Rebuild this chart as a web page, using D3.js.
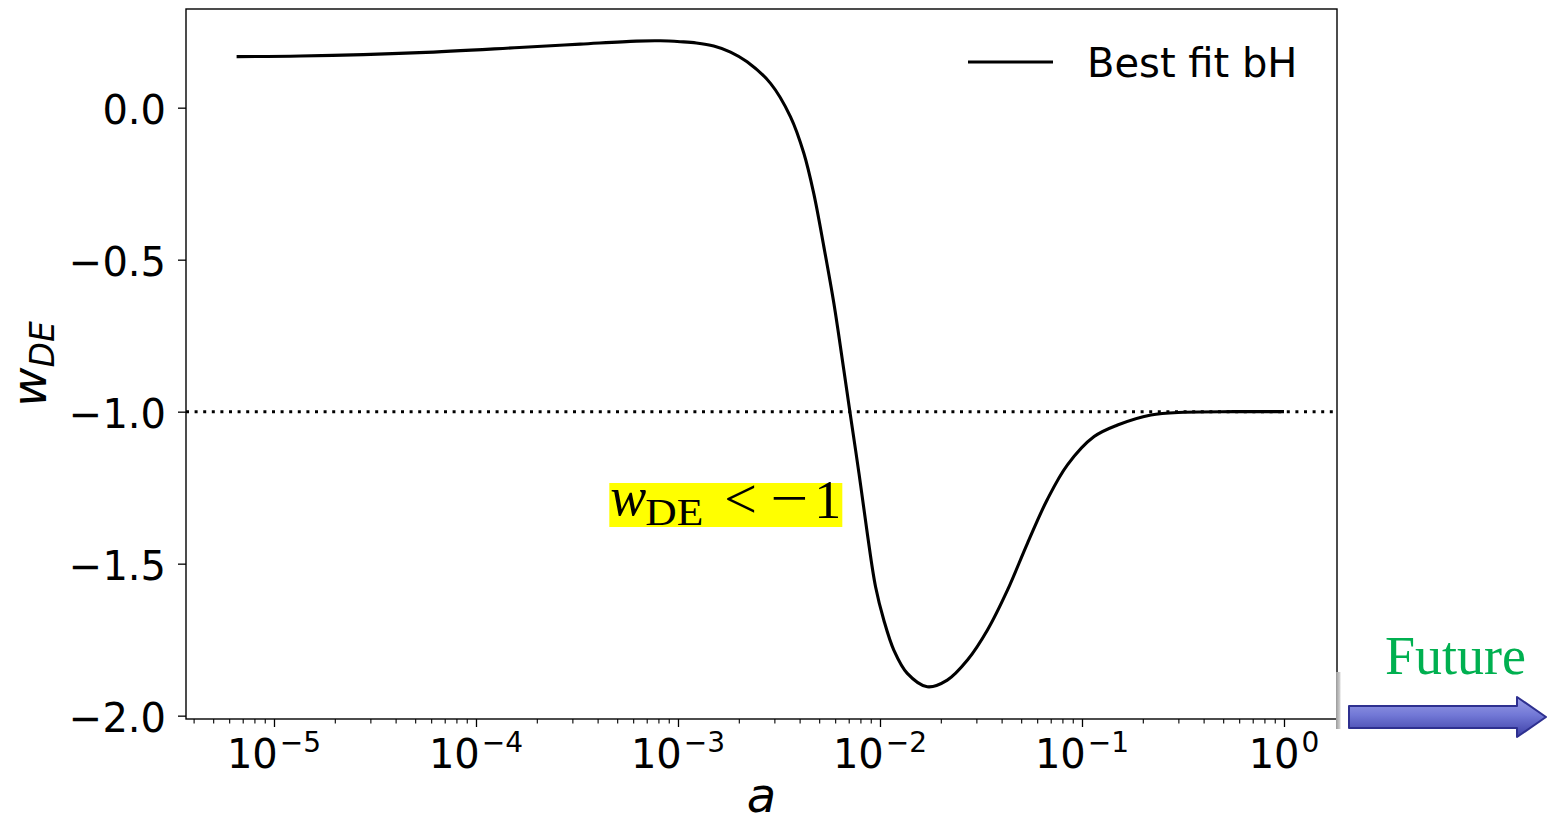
<!DOCTYPE html>
<html>
<head>
<meta charset="utf-8">
<script src="https://cdn.jsdelivr.net/npm/d3@7"></script>
<style>
  html, body { margin: 0; padding: 0; background: #ffffff; }
  svg { display: block; }
</style>
</head>
<body>
<svg id="chart" width="1548" height="825"></svg>
<script>
// ---- data ----
const aValues = [6.53e-6, 1.35e-5, 5.24e-5, 1.64e-4, 3.28e-4, 6.22e-4, 8.18e-4, 1.028e-3,
  1.233e-3, 1.503e-3, 1.82e-3, 2.198e-3, 2.871e-3, 3.606e-3, 4.198e-3, 4.699e-3, 5.272e-3, 5.916e-3,
  6.622e-3, 7.096e-3, 7.870e-3, 8.650e-3, 9.506e-3, 1.045e-2, 1.172e-2, 1.365e-2,
  1.714e-2, 2.153e-2, 2.710e-2, 3.404e-2, 4.276e-2, 5.370e-2, 6.745e-2, 8.472e-2,
  0.1148, 0.1500, 0.2193, 0.3206, 0.5675, 1.0];
const wValues = [0.168, 0.170, 0.181, 0.198, 0.209, 0.219, 0.220, 0.217,
  0.213, 0.203, 0.183, 0.151, 0.080, -0.030, -0.150, -0.282, -0.457, -0.645,
  -0.863, -1.000, -1.203, -1.400, -1.576, -1.686, -1.785, -1.861,
  -1.905, -1.883, -1.817, -1.718, -1.587, -1.433, -1.288, -1.175,
  -1.082, -1.044, -1.011, -1.002, -1.000, -1.000];
const xTickExponents = [-5, -4, -3, -2, -1, 0];
const yTickValues = [0.0, -0.5, -1.0, -1.5, -2.0];
const yTickLabels = ["0.0", "\u22120.5", "\u22121.0", "\u22121.5", "\u22122.0"];
const referenceW = -1.0;
const seriesLabel = "Best fit bH";
const xLabel = "a";
const futureLabel = "Future";

// ---- layout ----
const svg = d3.select("#chart");
const plot = { left: 186, right: 1337, top: 9, bottom: 719 };
const x = d3.scaleLog()
  .domain([Math.pow(10, -5.4356), Math.pow(10, 0.2624)])
  .range([plot.left, plot.right]);
const y = d3.scaleLinear()
  .domain([-2.011, 0.3246])
  .range([plot.bottom, plot.top]);

const sans = "'DejaVu Sans', sans-serif";
const serif = "'Liberation Serif', 'Times New Roman', serif";

// reference line w = -1
svg.append("line")
  .attr("x1", plot.left).attr("x2", plot.right)
  .attr("y1", y(referenceW)).attr("y2", y(referenceW))
  .attr("stroke", "#000").attr("stroke-width", 3)
  .attr("stroke-dasharray", "3,5.6");

// curve
const pts = aValues.map((a, i) => [a, wValues[i]]);
svg.append("path")
  .datum(pts)
  .attr("fill", "none")
  .attr("stroke", "#000")
  .attr("stroke-width", 3.1)
  .attr("stroke-linejoin", "round")
  .attr("d", d3.line().x(d => x(d[0])).y(d => y(d[1])).curve(d3.curveCatmullRom.alpha(0.5)));

// x axis major ticks
const xMajor = xTickExponents.map(e => Math.pow(10, e));
const xAxisG = svg.append("g")
  .attr("transform", `translate(0,${plot.bottom})`)
  .call(d3.axisBottom(x).tickValues(xMajor).tickSize(8).tickSizeOuter(0).tickFormat(""));
xAxisG.select(".domain").remove();
xAxisG.selectAll(".tick line").attr("stroke", "#000").attr("stroke-width", 1.3);

// minor ticks
const xMinor = [];
for (let e = -6; e <= 0; e++) for (let k = 2; k <= 9; k++) {
  const v = k * Math.pow(10, e);
  if (v >= x.domain()[0] && v <= x.domain()[1]) xMinor.push(v);
}
const xMinorG = svg.append("g")
  .attr("transform", `translate(0,${plot.bottom})`)
  .call(d3.axisBottom(x).tickValues(xMinor).tickSize(4.5).tickSizeOuter(0).tickFormat(""));
xMinorG.select(".domain").remove();
xMinorG.selectAll(".tick line").attr("stroke", "#000").attr("stroke-width", 1.1);

// x tick labels 10^e
xTickExponents.forEach(e => {
  const t = svg.append("text")
    .attr("x", x(Math.pow(10, e))).attr("y", 768)
    .attr("text-anchor", "middle")
    .attr("font-family", sans).attr("font-size", 40).attr("fill", "#000");
  t.append("tspan").text("10");
  t.append("tspan").attr("font-size", 28).attr("dy", -16).attr("dx", 2)
    .text(e < 0 ? "\u2212" + Math.abs(e) : String(e));
});

// y axis
const yAxisG = svg.append("g")
  .attr("transform", `translate(${plot.left},0)`)
  .call(d3.axisLeft(y).tickValues(yTickValues).tickSize(8).tickSizeOuter(0).tickFormat(""));
yAxisG.select(".domain").remove();
yAxisG.selectAll(".tick line").attr("stroke", "#000").attr("stroke-width", 1.3);
yTickValues.forEach((v, i) => {
  svg.append("text")
    .attr("x", 166).attr("y", y(v) + 16)
    .attr("text-anchor", "end")
    .attr("font-family", sans).attr("font-size", 40).attr("fill", "#000")
    .text(yTickLabels[i]);
});

// frame
svg.append("rect")
  .attr("x", plot.left).attr("y", plot.top)
  .attr("width", plot.right - plot.left).attr("height", plot.bottom - plot.top)
  .attr("fill", "none").attr("stroke", "#000").attr("stroke-width", 1.4);

// axis labels
const yl = svg.append("text")
  .attr("transform", `translate(46,${(plot.top + plot.bottom) / 2}) rotate(-90)`)
  .attr("text-anchor", "middle")
  .attr("font-family", sans).attr("font-style", "italic").attr("font-size", 48).attr("fill", "#000");
yl.append("tspan").text("w");
yl.append("tspan").attr("font-size", 33).attr("dy", 8).text("DE");

svg.append("text")
  .attr("x", (plot.left + plot.right) / 2).attr("y", 812)
  .attr("text-anchor", "middle")
  .attr("font-family", sans).attr("font-style", "italic").attr("font-size", 48).attr("fill", "#000")
  .text(xLabel);

// legend
svg.append("line")
  .attr("x1", 968).attr("x2", 1053).attr("y1", 62).attr("y2", 62)
  .attr("stroke", "#000").attr("stroke-width", 3);
svg.append("text")
  .attr("x", 1087).attr("y", 77)
  .attr("font-family", sans).attr("font-size", 40).attr("fill", "#000")
  .text(seriesLabel);

// annotation w_DE < -1 (yellow highlight)
const annA = Math.pow(10, -3.34), annW = -1.307;
const ax0 = x(annA), ay0 = y(annW);
svg.append("rect")
  .attr("x", ax0).attr("y", ay0 - 22).attr("width", 233).attr("height", 44)
  .attr("fill", "#ffff00");
svg.append("text")
  .attr("x", ax0 + 1).attr("y", ay0 + 10)
  .attr("font-family", serif).attr("font-style", "italic").attr("font-size", 54).attr("fill", "#000")
  .text("w");
svg.append("text")
  .attr("x", ax0 + 36).attr("y", ay0 + 20)
  .attr("font-family", serif).attr("font-size", 38)
  .attr("textLength", 58).attr("lengthAdjust", "spacingAndGlyphs").attr("fill", "#000")
  .text("DE");
svg.append("text")
  .attr("x", ax0 + 115).attr("y", ay0 + 13)
  .attr("font-family", serif).attr("font-size", 58).attr("fill", "#000")
  .text("<");
svg.append("text")
  .attr("x", ax0 + 161).attr("y", ay0 + 12)
  .attr("font-family", serif).attr("font-size", 56)
  .attr("textLength", 38).attr("lengthAdjust", "spacingAndGlyphs").attr("fill", "#000")
  .text("\u2212");
svg.append("text")
  .attr("x", ax0 + 205).attr("y", ay0 + 13)
  .attr("font-family", serif).attr("font-size", 54).attr("fill", "#000")
  .text("1");

// pasted "Future" arrow graphic
const defs = svg.append("defs");
const grad = defs.append("linearGradient").attr("id", "arrowGrad")
  .attr("x1", 0).attr("y1", 0).attr("x2", 0).attr("y2", 1);
grad.append("stop").attr("offset", "0%").attr("stop-color", "#9a9ee6");
grad.append("stop").attr("offset", "45%").attr("stop-color", "#7278d6");
grad.append("stop").attr("offset", "100%").attr("stop-color", "#3d40a6");
const barGrad = defs.append("linearGradient").attr("id", "barGrad")
  .attr("x1", 0).attr("y1", 0).attr("x2", 1).attr("y2", 0);
barGrad.append("stop").attr("offset", "0%").attr("stop-color", "#9a9a9a");
barGrad.append("stop").attr("offset", "100%").attr("stop-color", "#d8d8d8");

svg.append("rect").attr("x", 1336).attr("y", 672).attr("width", 4.5).attr("height", 57)
  .attr("fill", "url(#barGrad)");
svg.append("path")
  .attr("d", "M1349,706 L1517,706 L1517,697 L1546,717 L1517,737 L1517,728 L1349,728 Z")
  .attr("fill", "url(#arrowGrad)")
  .attr("stroke", "#2e3090").attr("stroke-width", 2).attr("stroke-linejoin", "round");
svg.append("text")
  .attr("x", 1385).attr("y", 674)
  .attr("font-family", serif).attr("font-size", 54).attr("fill", "#00b050")
  .text(futureLabel);
</script>
</body>
</html>
